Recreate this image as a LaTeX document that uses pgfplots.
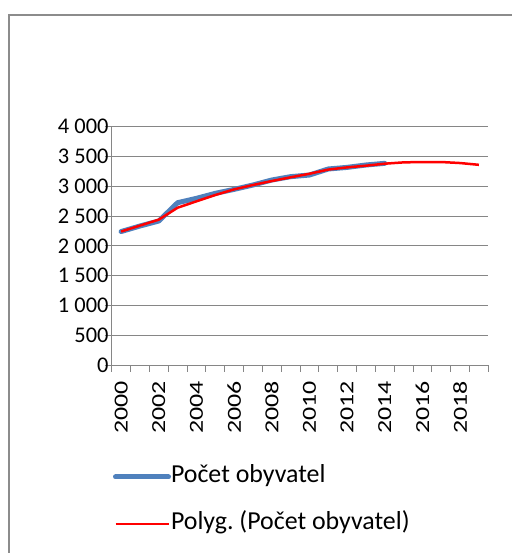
\documentclass[border=0pt]{standalone}
\usepackage{fontspec}
\setmainfont{Carlito}
\newfontfamily\stretchfont[FakeStretch=1.3]{Carlito}
\usepackage{pgfplots}
\pgfplotsset{compat=1.18}
\definecolor{axgray}{HTML}{868686}
\definecolor{framegray}{HTML}{8C8C8C}
\definecolor{xlblue}{HTML}{4F81BD}
\begin{document}
\begin{tikzpicture}[x=1bp,y=1bp]
\useasboundingbox (0,0) rectangle (512,553);
\fill[white] (0,0) rectangle (512,553);
\draw[framegray, line width=2bp] (9,-10) -- (9,538) -- (530,538);
\begin{axis}[
  at={(111.7bp,188bp)}, anchor=south west,
  width=376.6bp, height=238.3bp, scale only axis,
  xmin=1999.5, xmax=2019.5, ymin=0, ymax=4000,
  axis lines*=left,
  axis line style={-, draw=axgray, line width=0.9bp},
  ytick={0,500,...,4000},
  ymajorgrids, grid style={axgray, line width=0.9bp},
  xtick={1999.5,2000.5,...,2019.5}, xticklabels={},
  extra x ticks={2000,2002,...,2018},
  extra x tick labels={2000,2002,2004,2006,2008,2010,2012,2014,2016,2018},
  extra x tick style={major tick length=0pt, xmajorgrids=false},
  xticklabel style={rotate=90, anchor=east,
       font=\stretchfont\fontsize{20}{20}\selectfont, inner sep=0pt},
  xticklabel shift=16bp,
  tick align=outside, major tick length=7bp,
  tick style={axgray, line width=0.9bp},
  /pgf/number format/assume math mode=true,
  /pgf/number format/1000 sep={\ },
  yticklabel style={font=\fontsize{22.5}{22.5}\selectfont, inner sep=0pt, xshift=4bp},
  legend style={at={(-0.005,-0.5686)}, anchor=west, draw=none, fill=none,
     font=\fontsize{26}{26}\selectfont, row sep=23bp,
     nodes={inner sep=0pt, text height=18bp, text depth=6bp}},
  legend cell align=left,
  legend image code/.code={\draw[#1] (0bp,0bp) -- (53bp,0bp);},
]
\addplot[xlblue, line width=5bp, line join=round, line cap=round] coordinates {
(2000,2240) (2001,2333) (2002,2417) (2003,2724) (2004,2797) (2005,2881)
(2006,2948) (2007,3021) (2008,3105) (2009,3161) (2010,3189) (2011,3290)
(2012,3317) (2013,3357) (2014,3385)};
\addlegendentry{Počet obyvatel}
\addplot[red, line width=2.5bp, line join=round] coordinates {
(2000,2240) (2001,2340) (2002,2440) (2003,2640) (2004,2747) (2005,2853)
(2006,2948) (2007,3021) (2008,3088) (2009,3150) (2010,3210) (2011,3280)
(2012,3317) (2013,3345) (2014,3379) (2015,3401) (2016,3407) (2017,3407)
(2018,3390) (2019,3360)};
\addlegendentry{Polyg.\ (Počet obyvatel)}
\end{axis}
\end{tikzpicture}
\end{document}
